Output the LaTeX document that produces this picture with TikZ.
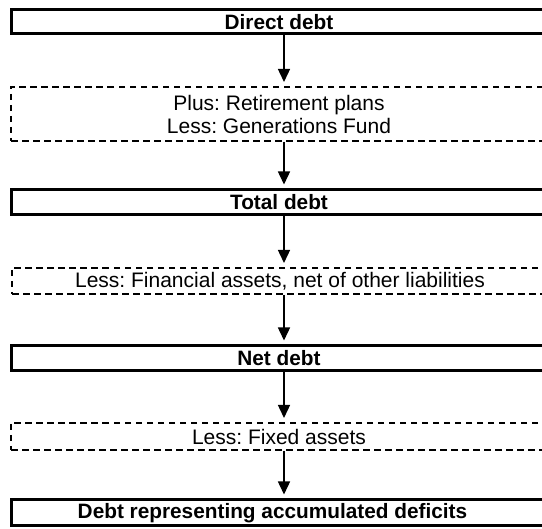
\documentclass[tikz,border=0pt]{standalone}
\usepackage{fontspec}
\setmainfont{Liberation Sans}
\usetikzlibrary{arrows.meta}
\begin{document}
\frenchspacing
\begin{tikzpicture}[x=1pt,y=-1pt,
 solidbox/.style={draw, line width=3pt, minimum width=536pt, inner sep=0pt, font=\fontsize{20.8}{23}\selectfont\bfseries},
 dashbox/.style={draw, line width=2pt, dash pattern=on 6.5pt off 4.5pt, minimum width=536pt, inner sep=0pt, align=center, font=\fontsize{21}{23}\selectfont},
 arr/.style={line width=1.4pt, -{Triangle[length=13pt,width=12pt]}, shorten >=4pt}]
\clip (0,0) rectangle (542,529);
\fill[white] (0,0) rectangle (542,529);
\coordinate (ax) at (284,0);
\node[solidbox, minimum height=24pt] (b1) at (279,22) {Direct debt};
\node[dashbox, minimum height=54pt] (d2) at (279,114) {Plus: Retirement plans\\Less: Generations Fund};
\node[solidbox, minimum height=25pt] (b3) at (279,202.5) {Total debt};
\node[dashbox, minimum height=26pt] (d4) at (280,281) {Less: Financial assets, net of other liabilities};
\node[solidbox, minimum height=25pt] (b5) at (279,358.5) {Net debt};
\node[dashbox, minimum height=27pt] (d6) at (279,436.5) {Less: Fixed assets};
\node[solidbox, minimum height=26pt] (b7) at (279,513) {\hspace*{-13pt}Debt representing accumulated deficits};
\draw[arr] (b1.south -| ax) -- (d2.north -| ax);
\draw[arr] (d2.south -| ax) -- (b3.north -| ax);
\draw[arr] (b3.south -| ax) -- (d4.north -| ax);
\draw[arr] (d4.south -| ax) -- (b5.north -| ax);
\draw[arr] (b5.south -| ax) -- (d6.north -| ax);
\draw[arr] (d6.south -| ax) -- (b7.north -| ax);
\end{tikzpicture}
\end{document}
